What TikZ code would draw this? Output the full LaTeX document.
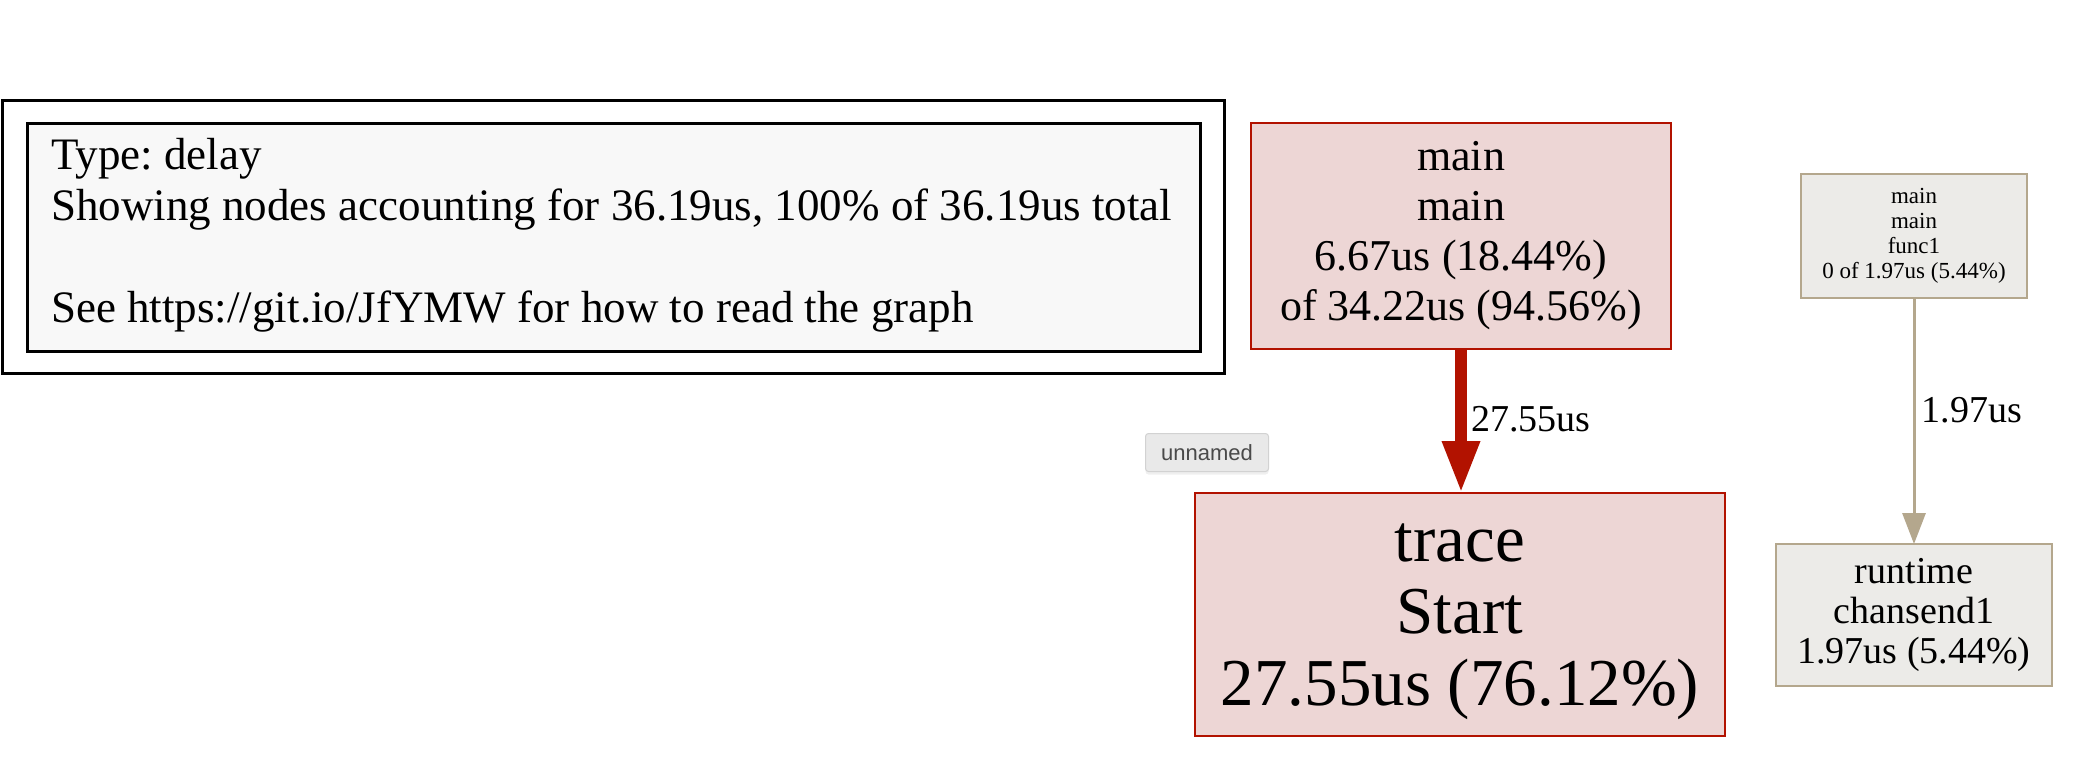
\documentclass[tikz,border=0pt]{standalone}
\usepackage{fontspec}
\setmainfont{Liberation Serif}
\newfontfamily\uifont{Liberation Sans}
\usetikzlibrary{arrows.meta,shadows}
\definecolor{hotfill}{HTML}{EDD6D5}
\definecolor{hotline}{HTML}{B21200}
\definecolor{coldfill}{HTML}{ECEBE8}
\definecolor{coldline}{HTML}{B4A78D}
\definecolor{legfill}{HTML}{F8F8F8}
\definecolor{tipfill}{HTML}{E9E9E9}
\definecolor{tipline}{HTML}{D2D2D2}
\definecolor{tiptext}{HTML}{4A4A4A}
\tikzset{
  box/.style={rectangle, inner sep=0pt, outer sep=0pt, align=center, line width=2.6pt},
  hotbox/.style={box, draw=hotline, fill=hotfill},
  coldbox/.style={box, draw=coldline, fill=coldfill},
  legbox/.style={rectangle, inner sep=0pt, outer sep=0pt, draw=black, line width=3pt},
  hotedge/.style={draw=hotline, line width=12pt, -{Triangle[width=35pt,length=52pt]}},
  coldedge/.style={draw=coldline, line width=3pt, -{Triangle[width=23pt,length=31pt]}},
  elabel/.style={inner sep=0pt, anchor=base west, font=\fontsize{38}{40}\selectfont},
  tipbox/.style={rectangle, rounded corners=3pt, draw=tipline, fill=tipfill, line width=1pt,
    minimum width=123pt, minimum height=38pt, inner sep=0pt, text=tiptext,
    font=\uifont\fontsize{22}{24}\selectfont,
    drop shadow={opacity=0.12, shadow xshift=0pt, shadow yshift=-3pt}}
}
\begin{document}
\begin{tikzpicture}[x=1pt,y=-1pt]
\useasboundingbox (0,0) rectangle (2096,756);
\fill[white] (0,0) rectangle (2096,756);
% legend
\node[legbox, minimum width=1222pt, minimum height=273pt] (legout) at (613,236.5) {};
\node[legbox, fill=legfill, minimum width=1173pt, minimum height=228pt] (legin) at (613.5,237) {};
\node[inner sep=0pt, anchor=base west, align=left, font=\fontsize{45}{51}\selectfont\frenchspacing] (legtext) at (51,322)
  {Type: delay\\Showing nodes accounting for 36.19us, 100\% of 36.19us total\\[51pt]See https://git.io/JfYMW for how to read the graph};
% nodes
\node[hotbox, minimum width=420pt, minimum height=226pt, font=\fontsize{44}{50}\selectfont] (main) at (1461,236)
  {main\\main\\6.67us (18.44\%)\\of 34.22us (94.56\%)};
\node[hotbox, minimum width=530pt, minimum height=243pt, text depth=-1pt, font=\fontsize{67}{72}\selectfont] (trace) at (1460,614.5)
  {trace\\Start\\27.55us (76.12\%)};
\node[coldbox, minimum width=226pt, minimum height=124pt, font=\fontsize{23}{25}\selectfont] (func) at (1914,236)
  {main\\main\\func1\\0 of 1.97us (5.44\%)};
\node[coldbox, minimum width=276pt, minimum height=142pt, font=\fontsize{38}{40}\selectfont] (rt) at (1914,615)
  {runtime\\chansend1\\1.97us (5.44\%)};
% edges
\draw[hotedge] (main.south -| 1461,0) -- node[elabel, pos=0.576, xshift=4pt] (l1) {27.55us} (trace.north -| 1461,0);
\draw[coldedge] (func.south) -- node[elabel, pos=0.508, xshift=6pt] (l2) {1.97us} (rt.north);
% tooltip
\node[tipbox] (tip) at (1207,452.5) {unnamed};
\end{tikzpicture}
\end{document}
